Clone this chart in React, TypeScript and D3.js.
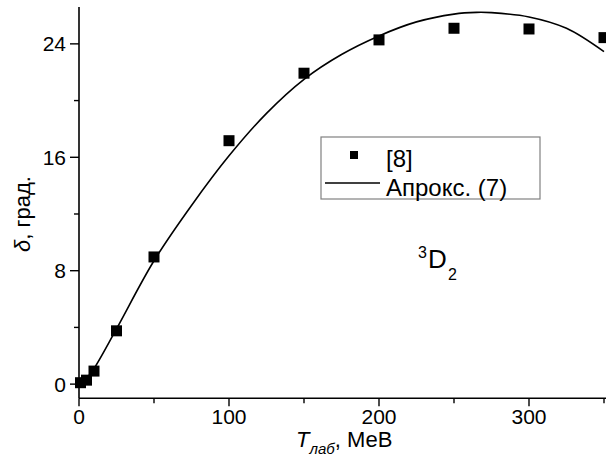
import React from 'react';
import * as d3 from 'd3';

// measured points [8]
const dataT = [1, 5, 10, 25, 50, 100, 150, 200, 250, 300, 350];
const dataDelta = [0.1, 0.28, 0.92, 3.76, 8.97, 17.17, 21.93, 24.28, 25.1, 25.05, 24.44];

// approximation curve (7)
const fitT = [0, 5, 10, 25, 50, 75, 100, 125, 150, 175, 200, 225, 250, 265, 275, 300, 325, 350];
const fitDelta = [0, 0.4, 1.1, 3.9, 8.7, 12.6, 16.1, 19.1, 21.5, 23.25, 24.56, 25.55, 26.1, 26.22, 26.2, 25.9, 25.1, 23.45];

const xMajor = [0, 100, 200, 300];
const xMinor = [50, 150, 250, 350];
const yMajor = [0, 8, 16, 24];
const yMinor = [4, 12, 20];

const W = 606;
const H = 473;
const font = '"Liberation Sans", Arial, sans-serif';

export default function App() {
  const x = d3.scaleLinear().domain([0, 350]).range([79, 604]);
  const y = d3.scaleLinear().domain([-1, 26.6]).range([398.3, 7]);

  const line = d3
    .line<number>()
    .x((d, i) => x(fitT[i]))
    .y((d) => y(d))
    .curve(d3.curveCatmullRom.alpha(0.5));

  const x0 = x.range()[0];
  const yb = y.range()[0];

  return (
    <svg
      width={W}
      height={H}
      style={{ position: 'absolute', left: 0, top: 0, background: '#fff' }}
      fontFamily={font}
    >
      <rect width={W} height={H} fill="#fff" />

      {/* fit curve */}
      <path d={line(fitDelta) || ''} fill="none" stroke="#000" strokeWidth={1.6} />

      {/* data squares */}
      {dataT.map((t, i) => (
        <rect
          key={t}
          x={x(t) - 5.5}
          y={y(dataDelta[i]) - 5.5}
          width={11}
          height={11}
          fill="#000"
        />
      ))}

      {/* axes */}
      <line x1={x0} x2={x0} y1={y.range()[1]} y2={yb} stroke="#000" strokeWidth={1.6} />
      <line x1={x0} x2={W} y1={yb} y2={yb} stroke="#000" strokeWidth={1.6} />

      {xMajor.map((t) => (
        <g key={'xm' + t}>
          <line x1={x(t)} x2={x(t)} y1={yb} y2={yb + 8} stroke="#000" strokeWidth={1.4} />
          <text x={x(t)} y={424} fontSize={21} textAnchor="middle">
            {t}
          </text>
        </g>
      ))}
      {xMinor.map((t) => (
        <line key={'xn' + t} x1={x(t)} x2={x(t)} y1={yb} y2={yb + 5} stroke="#000" strokeWidth={1.4} />
      ))}

      {yMajor.map((t) => (
        <g key={'ym' + t}>
          <line x1={x0 - 9} x2={x0} y1={y(t)} y2={y(t)} stroke="#000" strokeWidth={1.4} />
          <text x={66} y={y(t)} dy="0.36em" fontSize={21} textAnchor="end">
            {t}
          </text>
        </g>
      ))}
      {yMinor.map((t) => (
        <line key={'yn' + t} x1={x0 - 5} x2={x0} y1={y(t)} y2={y(t)} stroke="#000" strokeWidth={1.4} />
      ))}

      {/* axis titles */}
      <text transform="translate(30,214) rotate(-90)" fontSize={22} textAnchor="middle">
        <tspan fontStyle="italic">δ</tspan>, град.
      </text>
      <text x={296} y={447} fontSize={22}>
        <tspan fontStyle="italic">T</tspan>
        <tspan fontStyle="italic" fontSize={15} dy={7}>
          лаб
        </tspan>
        <tspan dy={-7}>, МеВ</tspan>
      </text>

      {/* state label */}
      <text fontSize={26}>
        <tspan x={418} y={258} fontSize={16}>
          3
        </tspan>
        <tspan x={428} y={268}>
          D
        </tspan>
        <tspan x={448} y={280} fontSize={16}>
          2
        </tspan>
      </text>

      {/* legend */}
      <rect x={321} y={137} width={219} height={62} fill="#fff" stroke="#808080" strokeWidth={1.2} />
      <rect x={350} y={151} width={8} height={8} fill="#000" />
      <text x={386} y={167} fontSize={24}>
        [8]
      </text>
      <line x1={325} x2={380} y1={183} y2={183} stroke="#000" strokeWidth={1.6} />
      <text x={386} y={196} fontSize={24}>
        Апрокс. (7)
      </text>
    </svg>
  );
}
